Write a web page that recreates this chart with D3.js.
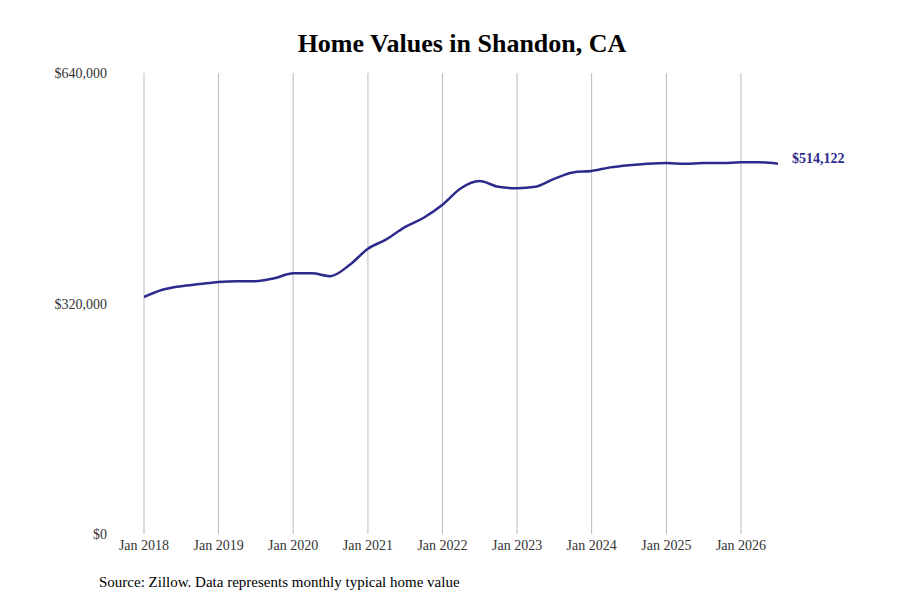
<!DOCTYPE html>
<html><head><meta charset="utf-8">
<script src="https://cdn.jsdelivr.net/npm/d3@7"></script>
<style>body{margin:0;background:#fff}</style>
</head><body>
<svg id="chart" width="900" height="600"></svg>
<script>
// quarterly typical home values
var dates = ["2018-01","2018-04","2018-07","2018-10","2019-01","2019-04","2019-07","2019-10",
  "2020-01","2020-04","2020-07","2020-10","2021-01","2021-04","2021-07","2021-10",
  "2022-01","2022-04","2022-07","2022-10","2023-01","2023-04","2023-07","2023-10",
  "2024-01","2024-04","2024-07","2024-10","2025-01","2025-04","2025-07","2025-10",
  "2026-01","2026-04","2026-07"];
var values = [329000,339000,344000,347000,350000,351000,351000,355000,
  362000,362000,358000,373000,396000,409000,426000,439000,
  457000,480000,490000,482000,480000,482000,493000,502000,
  504000,509000,512000,514000,515000,514000,515000,515000,
  516000,516000,514122];
var yTicks = [0, 320000, 640000];
var xTickYears = [2018,2019,2020,2021,2022,2023,2024,2025,2026];

var parse = d3.timeParse("%Y-%m");
var data = dates.map(function(d, i) { return {date: parse(d), value: values[i]}; });

var svg = d3.select("#chart");
var font = "Liberation Serif, serif";

var x = d3.scaleTime()
  .domain([new Date(2018, 0, 1), new Date(2026, 0, 1)])
  .range([144, 741]);
var y = d3.scaleLinear().domain([0, 640000]).range([534, 73]);

// vertical grid lines
svg.selectAll("line.grid")
  .data(xTickYears)
  .enter().append("line")
  .attr("x1", function(d) { return x(new Date(d, 0, 1)); })
  .attr("x2", function(d) { return x(new Date(d, 0, 1)); })
  .attr("y1", 73).attr("y2", 534)
  .attr("stroke", "#bbb").attr("stroke-width", 1);

// x labels
svg.selectAll("text.xl")
  .data(xTickYears)
  .enter().append("text")
  .attr("x", function(d) { return x(new Date(d, 0, 1)); })
  .attr("y", 550)
  .attr("text-anchor", "middle")
  .attr("font-family", font).attr("font-size", 14).attr("fill", "#333")
  .text(function(d) { return "Jan " + d; });

// y labels
svg.selectAll("text.yl")
  .data(yTicks)
  .enter().append("text")
  .attr("x", 107)
  .attr("y", function(d) { return y(d) + 5; })
  .attr("text-anchor", "end")
  .attr("font-family", font).attr("font-size", 14).attr("fill", "#333")
  .text(function(d) { return "$" + d3.format(",")(d); });

// line
var line = d3.line()
  .x(function(d) { return x(d.date); })
  .y(function(d) { return y(d.value); })
  .curve(d3.curveMonotoneX);
svg.append("path").datum(data)
  .attr("d", line)
  .attr("fill", "none").attr("stroke", "#2e2a8c").attr("stroke-width", 2.5);

var last = data[data.length - 1];
svg.append("text")
  .attr("x", x(last.date) + 14).attr("y", y(last.value) - 1)
  .attr("font-family", font).attr("font-size", 14).attr("font-weight", "bold")
  .attr("fill", "#2e2a8c")
  .text("$" + d3.format(",")(last.value));

// title and source
svg.append("text").attr("x", 462).attr("y", 52).attr("text-anchor", "middle")
  .attr("font-family", font).attr("font-size", 26).attr("font-weight", "bold")
  .text("Home Values in Shandon, CA");
svg.append("text").attr("x", 99).attr("y", 587)
  .attr("font-family", font).attr("font-size", 15)
  .text("Source: Zillow. Data represents monthly typical home value");
</script>
</body></html>
